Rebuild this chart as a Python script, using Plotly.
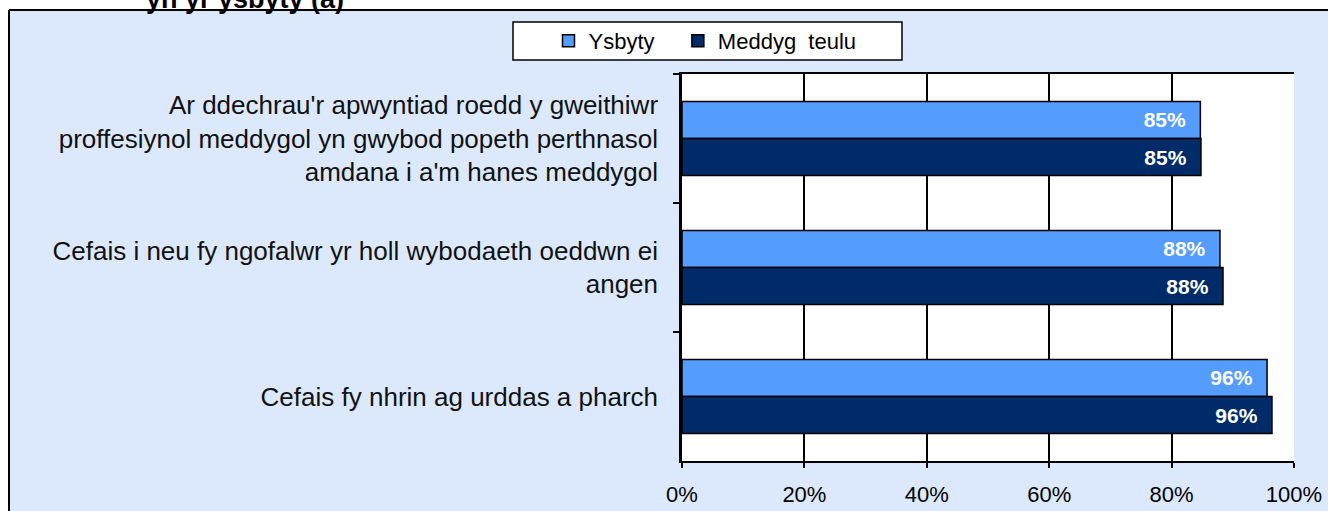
import plotly.graph_objects as go

categories = [
    "Ar ddechrau'r apwyntiad roedd y gweithiwr<br>proffesiynol meddygol yn gwybod popeth perthnasol<br>amdana i a'm hanes meddygol",
    "Cefais i neu fy ngofalwr yr holl wybodaeth oeddwn ei<br>angen",
    "Cefais fy nhrin ag urddas a pharch",
]
series_names = ["Ysbyty", "Meddyg  teulu"]
ysbyty = [84.7, 87.9, 95.6]
meddyg_teulu = [84.8, 88.4, 96.4]
x_ticks = [0, 20, 40, 60, 80, 100]
x_tick_labels = ["0%", "20%", "40%", "60%", "80%", "100%"]
title_tail = "yn yr ysbyty (a)"

LIGHT = "#559CFF"
DARK = "#002B69"
BG = "#DCE9FC"
FONT = "Liberation Sans, Arial, sans-serif"

fig = go.Figure()
legend_names = [series_names[0] + "\u00a0" * 3, series_names[1].replace(" ", "\u00a0")]
for name, vals, col in [(legend_names[0], ysbyty, LIGHT), (legend_names[1], meddyg_teulu, DARK)]:
    fig.add_trace(go.Bar(
        y=categories, x=vals, name=name, orientation="h",
        marker=dict(color=col, line=dict(color="black", width=1.5)),
        texttemplate="<b>%{x:.0f}%</b>\u00a0\u00a0", textposition="inside",
        insidetextanchor="end",
        textfont=dict(color="white", size=21, family=FONT),
    ))

# plot area in pixels: x 682..1294, y 74..461
L, R, T, B = 682, 34, 74, 50
W, H = 1328, 511
pw, ph = W - L - R, H - T - B
def px(x):
    return (x - L) / pw
def py(y):
    return (H - B - y) / ph

shapes = [
    dict(type="rect", xref="paper", yref="paper", x0=-1.3, x1=1.3, y0=py(10), y1=1.4,
         fillcolor="white", line=dict(width=0), layer="above"),
    dict(type="rect", xref="paper", yref="paper", x0=-1.3, x1=px(9), y0=-0.4, y1=1.4,
         fillcolor="white", line=dict(width=0), layer="above"),
    dict(type="line", xref="paper", yref="paper", x0=px(9), x1=1.3, y0=py(10), y1=py(10),
         line=dict(color="black", width=2), layer="above"),
    dict(type="line", xref="paper", yref="paper", x0=px(9), x1=px(9), y0=-0.4, y1=py(10),
         line=dict(color="black", width=2), layer="above"),
    # legend box
    dict(type="rect", xref="paper", yref="paper", x0=px(513), x1=px(902), y0=py(60), y1=py(22),
         fillcolor="white", line=dict(color="black", width=1.5), layer="below"),
]

fig.update_layout(
    width=W, height=H, autosize=False,
    margin=dict(l=L, r=R, t=T, b=B, pad=0, autoexpand=False),
    paper_bgcolor=BG, plot_bgcolor="white",
    barmode="group", bargap=0.426, bargroupgap=0,
    font=dict(family=FONT, color="black"),
    shapes=shapes,
    showlegend=True,
    legend=dict(
        orientation="h", x=px(705), xanchor="center", y=py(41), yanchor="middle",
        bgcolor="rgba(0,0,0,0)", borderwidth=0,
        font=dict(size=22, family=FONT, color="black"), traceorder="normal",
        itemwidth=30,
    ),
    annotations=[dict(
        text="<b>" + title_tail + "</b>", xref="paper", yref="paper",
        x=px(245), y=py(-1), xanchor="center", yanchor="middle", showarrow=False,
        font=dict(size=27, family=FONT, color="black"),
    )],
    xaxis=dict(
        range=[0, 100], tickvals=x_ticks, ticktext=x_tick_labels, automargin=False,
        showgrid=True, gridcolor="black", gridwidth=1.5,
        showline=True, linecolor="black", linewidth=2, mirror=True,
        ticks="outside", ticklen=5, tickcolor="black", tickwidth=1.5,
        tickfont=dict(size=22, family=FONT, color="black"),
        ticklabelstandoff=8, zeroline=False, fixedrange=True,
    ),
    yaxis=dict(
        autorange="reversed", tickson="boundaries", automargin=False,
        showline=True, linecolor="black", linewidth=2.5, mirror=False,
        ticks="outside", ticklen=6, tickcolor="black", tickwidth=1.5,
        tickfont=dict(size=26, family=FONT, color="#111111"),
        ticklabelstandoff=16, showgrid=False,
    ),
)

fig.write_html(
    "out.html",
    config={"displayModeBar": False, "responsive": False},
    post_script="document.body.style.margin='0';document.body.style.overflow='hidden';",
)
